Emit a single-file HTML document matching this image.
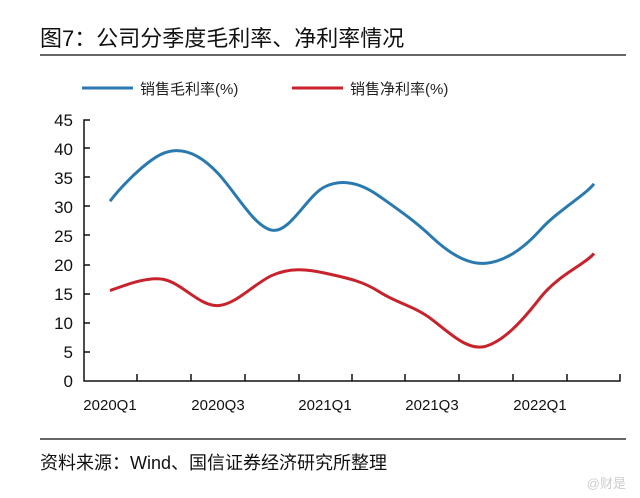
<!DOCTYPE html>
<html><head><meta charset="utf-8"><style>
body{margin:0;background:#fff;width:640px;height:498px;overflow:hidden}
svg{display:block}
</style></head><body>
<svg width="640" height="498" xmlns="http://www.w3.org/2000/svg" font-family="Liberation Sans, Noto Sans CJK SC, sans-serif">
<text x="40" y="46" font-size="22" fill="#111" font-family="Liberation Sans, Noto Sans CJK SC, sans-serif">图7：公司分季度毛利率、净利率情况</text>
<line x1="40" y1="55" x2="626" y2="55" stroke="#333" stroke-width="1.5"/>
<line x1="82" y1="88" x2="133" y2="88" stroke="#2a7ab0" stroke-width="3"/>
<text x="140" y="94" font-size="15" fill="#222">销售毛利率(%)</text>
<line x1="292" y1="88" x2="343" y2="88" stroke="#c8232c" stroke-width="3"/>
<text x="350" y="94" font-size="15" fill="#222">销售净利率(%)</text>
<g stroke="#111" stroke-width="1.5" fill="none">
<path d="M90 120H84V381H620V374"/>
<path d="M84 148H90M84 177H90M84 206H90M84 235H90M84 265H90M84 294H90M84 323H90M84 352H90"/>
<path d="M137 381V374M191 381V374M245 381V374M299 381V374M352 381V374M405 381V374M459 381V374M513 381V374M567 381V374"/>
</g>
<g font-size="17" fill="#111" text-anchor="end">
<text x="73" y="126">45</text><text x="73" y="155">40</text><text x="73" y="184">35</text><text x="73" y="213">30</text><text x="73" y="242">25</text><text x="73" y="271">20</text><text x="73" y="300">15</text><text x="73" y="329">10</text><text x="73" y="358">5</text><text x="73" y="387">0</text>
</g>
<g font-size="15" fill="#111" text-anchor="middle">
<text x="110" y="410">2020Q1</text><text x="218" y="410">2020Q3</text><text x="325" y="410">2021Q1</text><text x="432" y="410">2021Q3</text><text x="540" y="410">2022Q1</text>
</g>
<path id="b" fill="none" stroke="#2a7ab0" stroke-width="3"/>
<path id="r" fill="none" stroke="#c8232c" stroke-width="3"/>
<line x1="40" y1="439" x2="626" y2="439" stroke="#333" stroke-width="1.5"/>
<text x="40" y="469" font-size="18" fill="#111">资料来源：Wind、国信证券经济研究所整理</text>
<text x="626" y="488" font-size="13" fill="#ccc" text-anchor="end">@财是</text>
</svg>
<script>
var xs=[110,164,218,272,325,379,432,486,540,594];
function y(v){return 381-v*261/45}
function path(vs){var p=xs.map(function(x,i){return [x,y(vs[i])]});var d="M"+p[0][0]+" "+p[0][1];
for(var i=0;i<p.length-1;i++){var p0=p[i-1]||p[i],p1=p[i],p2=p[i+1],p3=p[i+2]||p2,t=0.25;
d+=" C"+(p1[0]+(p2[0]-p0[0])*t/1.5)+" "+(p1[1]+(p2[1]-p0[1])*t)+" "+(p2[0]-(p3[0]-p1[0])*t/1.5)+" "+(p2[1]-(p3[1]-p1[1])*t)+" "+p2[0]+" "+p2[1];}return d}
document.getElementById("b").setAttribute("d",path([31,39.3,35.8,26,33.5,31.9,24.8,20.3,26,34]));
document.getElementById("r").setAttribute("d",path([15.6,17.5,13,18.2,18.6,15.4,10.6,6,14.3,22]));
</script>
</body></html>
